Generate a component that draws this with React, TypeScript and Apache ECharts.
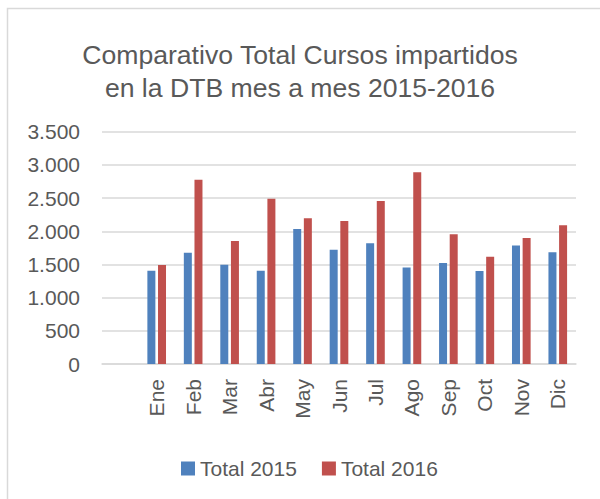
import React, { useEffect, useRef } from "react";
import * as echarts from "echarts";

const months = ["Ene", "Feb", "Mar", "Abr", "May", "Jun", "Jul", "Ago", "Sep", "Oct", "Nov", "Dic"];
const total2015 = [1405, 1675, 1495, 1405, 2035, 1720, 1820, 1455, 1520, 1400, 1785, 1685];
const total2016 = [1490, 2775, 1855, 2490, 2195, 2155, 2455, 2890, 1955, 1615, 1900, 2090];
const yTicks = { min: 0, max: 3500, interval: 500 };
const titleLines = ["Comparativo Total Cursos impartidos", "en la DTB mes a mes 2015-2016"];
const seriesNames = ["Total 2015", "Total 2016"];

const FONT = "'Liberation Sans', Arial, sans-serif";
const TEXT = "#595959";

export default function App() {
  const ref = useRef<HTMLDivElement>(null);
  useEffect(() => {
    if (!ref.current) return;
    const chart = echarts.init(ref.current, undefined, { renderer: "svg" });
    const cats = ["", ...months];
    const fmt = (v: number) => String(v).replace(/\B(?=(\d{3})+(?!\d))/g, ".");
    chart.setOption({
      animation: false,
      backgroundColor: "#ffffff",
      textStyle: { fontFamily: FONT },
      title: {
        text: titleLines.join("\n"),
        left: "center",
        top: 33,
        textStyle: { fontFamily: FONT, fontSize: 26.6, fontWeight: "normal", color: TEXT, lineHeight: 33 },
      },
      graphic: [
        {
          type: "rect",
          shape: { x: 7.5, y: 8.5, width: 700, height: 600 },
          style: { fill: "none", stroke: "#D9D9D9", lineWidth: 1.5 },
          silent: true,
        },
      ],
      legend: {
        data: seriesNames,
        left: 176,
        top: 453,
        icon: "rect",
        itemWidth: 14,
        itemHeight: 14,
        itemGap: 25,
        textStyle: { fontFamily: FONT, fontSize: 21, color: TEXT },
      },
      grid: { left: 102, right: 24, top: 131.7, bottom: 135, containLabel: false },
      xAxis: {
        type: "category",
        data: cats,
        axisLine: { show: true, lineStyle: { color: "#D9D9D9", width: 1.5 } },
        axisTick: { show: false },
        axisLabel: { rotate: 90, interval: 0, margin: 15, fontSize: 21, color: TEXT, fontFamily: FONT },
      },
      yAxis: {
        type: "value",
        min: yTicks.min,
        max: yTicks.max,
        interval: yTicks.interval,
        axisLine: { show: false },
        axisTick: { show: false },
        splitLine: { lineStyle: { color: "#D9D9D9", width: 1.5 } },
        axisLabel: { formatter: fmt, fontSize: 21, color: TEXT, fontFamily: FONT, margin: 22 },
      },
      series: [
        {
          name: seriesNames[0],
          type: "bar",
          data: [null, ...total2015],
          barWidth: 8,
          barGap: "33%",
          itemStyle: { color: "#4F81BD" },
        },
        {
          name: seriesNames[1],
          type: "bar",
          data: [null, ...total2016],
          barWidth: 8,
          barGap: "33%",
          itemStyle: { color: "#C0504D" },
        },
      ],
    });
    return () => chart.dispose();
  }, []);
  return (
    <div style={{ position: "absolute", left: 0, top: 0 }}>
      <div ref={ref} style={{ width: 600, height: 499 }} />
    </div>
  );
}
